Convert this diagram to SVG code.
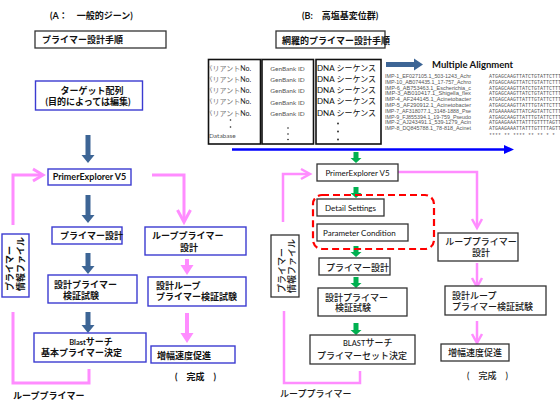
<svg xmlns="http://www.w3.org/2000/svg" width="560" height="406" viewBox="0 0 560 406">
<style>
text{font-family:Lato,'Noto Sans CJK JP',sans-serif;fill:#111}
.jb{font-size:9px;font-weight:bold}
.jn{font-size:9px;fill:#1a1a1a;font-weight:500}
.lat{font-family:Lato,'Liberation Sans',sans-serif}
.boxA{fill:#fff;stroke:#3b3bd1;stroke-width:1.4}
.boxK{fill:#fff;stroke:#333;stroke-width:1.3}
.tbl{fill:#fff;stroke:#111;stroke-width:1.6}
.darr{fill:#3d6595}
.garr{fill:#00b050}
.pk{fill:none;stroke:#ff8cff;stroke-width:3}
.pk2{fill:none;stroke:#ff8cff;stroke-width:2.5}
.pkf{fill:#ff8cff}
.aln{font-family:'Liberation Sans',sans-serif;font-size:5px;fill:#555}
.seq{font-family:'Liberation Mono',monospace;font-size:5px;fill:#555}
.var{font-size:7px;fill:#777}
.gb{font-size:6.5px;fill:#555}
.dna{font-size:8px;fill:#111}
.dot{fill:#222}
</style>
<defs>
<clipPath id="c1"><rect x="209" y="60" width="51" height="83"/></clipPath>
</defs>
<rect width="560" height="406" fill="#fff"/>

<g id="connectors">
<path class="darr" d="M85.5,135H90.5V155H94.5L88,163L81.5,155H85.5Z"/>
<path class="darr" d="M85.5,195H90.5V215H94.5L88,223L81.5,215H85.5Z"/>
<path class="darr" d="M85.5,253H90.5V266H94.5L88,274L81.5,266H85.5Z"/>
<path class="darr" d="M85.5,312H90.5V325H94.5L88,333L81.5,325H85.5Z"/>
<polyline class="pk" points="152,175 184,175 184,221"/>
<polyline class="pk" points="177.5,210 184,222 190.5,210"/>
<polyline class="pk" points="13,225 13,175 42,175"/>
<polyline class="pk" points="33,169 43,175 33,181"/>
<path class="pkf" d="M185,259H189V265H193.5L187,275L180.5,265H185Z"/>
<path class="pkf" d="M185,313H189V333H193.5L187,343L180.5,333H185Z"/>
<polyline class="pk" points="13,312 13,383 89,383 89,369"/>
<path class="darr" d="M386,62V67H414V70.5L423,64.5L414,58.5V62Z"/>
<line x1="232" y1="149.5" x2="506" y2="149.5" stroke="#0000ff" stroke-width="2.5"/>
<polygon points="504,145 514,149.5 504,154" fill="#0000ff"/>
<path class="garr" d="M353.5,152H358.5V158H361.5L356,163L350.5,158H353.5Z"/>
<path class="garr" d="M353.5,187H358.5V193H361.5L356,198L350.5,193H353.5Z"/>
<path class="garr" d="M353.5,246H358.5V252H361.5L356,257L350.5,252H353.5Z"/>
<path class="garr" d="M353.5,277H358.5V283H361.5L356,288L350.5,283H353.5Z"/>
<path class="garr" d="M353.5,323H358.5V330H361.5L356,335L350.5,330H353.5Z"/>
<polyline class="pk2" points="398,172 477,172 477,227"/>
<polyline class="pk2" points="472,219 477,228 482,219"/>
<polyline class="pk2" points="283,222 283,174 309,174"/>
<polyline class="pk2" points="301,169 310,174 301,179"/>
<polyline class="pk2" points="477,263 477,286"/>
<polyline class="pk2" points="472,278 477,287 482,278"/>
<polyline class="pk2" points="477,321 477,342"/>
<polyline class="pk2" points="472,334 477,343 482,334"/>
<polyline class="pk2" points="284,311 284,383 360,383 360,371"/>
<rect x="313" y="195" width="121" height="54" rx="9" fill="none" stroke="#ff0000" stroke-width="2.2" stroke-dasharray="7,4"/>
</g>

<g id="titleA"><text x="50" y="18.5" class="jb" font-size="10">(A：　一般的ジーン)</text></g>
<g id="stepsA"><rect class="boxK" x="35" y="31" width="131" height="17"/><text x="42" y="42.5" class="jb">プライマー設計手順</text></g>
<g id="targetA"><rect class="boxA" x="35.5" y="81" width="107" height="29"/>
<text x="92" y="93.5" class="jb" font-size="10" text-anchor="middle">ターゲット配列</text>
<text x="88" y="104.5" class="jb" font-size="10" text-anchor="middle">(目的によっては編集)</text></g>
<g id="peA"><rect class="boxA" x="48" y="169" width="83" height="16"/><text x="89.5" y="180" class="jb lat" font-size="8.5" text-anchor="middle">PrimerExplorer V5</text></g>
<g id="designA"><rect class="boxA" x="52" y="227" width="70" height="17"/><text x="60" y="239" class="jb">プライマー設計</text></g>
<g id="loopA"><rect class="boxA" x="145" y="227" width="101" height="28"/><text x="152" y="238.5" class="jb">ループプライマー</text><text x="180" y="250.5" class="jb">設計</text></g>
<g id="infoA"><rect class="boxA" x="2" y="234" width="27" height="63"/>
<text transform="translate(13,291) rotate(-90)" class="jb" font-size="8.5">プライマー</text>
<text transform="translate(24,291) rotate(-90)" class="jb" font-size="8.5">情報ファイル</text></g>
<g id="verifyA"><rect class="boxA" x="48" y="275" width="89" height="28"/><text x="54" y="287.5" class="jb">設計プライマー</text><text x="63" y="298.5" class="jb">検証試験</text></g>
<g id="loopVerifyA"><rect class="boxA" x="148" y="277" width="98" height="29"/><text x="156" y="289" class="jb">設計ループ</text><text x="156" y="299.5" class="jb">プライマー検証試験</text></g>
<g id="blastA"><rect class="boxA" x="34" y="333" width="112" height="29"/>
<text x="91" y="344.5" class="jb" text-anchor="middle"><tspan font-size="7.5">Blast</tspan>サーチ</text>
<text x="41" y="355.5" class="jb">基本プライマー決定</text></g>
<g id="ampA"><rect class="boxA" x="151" y="346" width="84" height="17"/><text x="157" y="358.5" class="jb">増幅速度促進</text></g>
<g id="doneA"><text x="175" y="379.5" class="jb">(　完成　)</text></g>
<g id="loopLabelA"><text x="13" y="399" class="jb" font-size="9.8">ループプライマー</text></g>

<g id="titleB"><text x="302" y="18.5" class="jb" font-size="9.5">(B:　高塩基変位群)</text></g>
<g id="stepsB"><rect class="boxK" x="276" y="31" width="109" height="17"/><text x="282" y="43.5" class="jb" font-size="10">網羅的プライマー設計手順</text></g>

<g id="tableB">
<rect class="tbl" x="208.5" y="59.5" width="52" height="84.5"/>
<rect class="tbl" x="262" y="59.5" width="51.5" height="84.5"/>
<rect class="tbl" x="316" y="59.5" width="65" height="84.5"/>
<g clip-path="url(#c1)">
<text x="205.5" y="71" class="var">バリアント<tspan fill="#222">No.</tspan></text>
<text x="205.5" y="82" class="var">バリアント<tspan fill="#222">No.</tspan></text>
<text x="205.5" y="93" class="var">バリアント<tspan fill="#222">No.</tspan></text>
<text x="205.5" y="104" class="var">バリアント<tspan fill="#222">No.</tspan></text>
<text x="205.5" y="115.5" class="var">バリアント<tspan fill="#222">No.</tspan></text>
</g>
<circle class="dot" cx="230.5" cy="120" r="0.8"/>
<circle class="dot" cx="230.5" cy="127" r="0.8"/>
<text x="209" y="137.5" class="gb" fill="#333">Database</text>
<text x="287.5" y="71" class="gb" text-anchor="middle">GenBank ID</text>
<text x="287.5" y="82" class="gb" text-anchor="middle">GenBank ID</text>
<text x="287.5" y="93" class="gb" text-anchor="middle">GenBank ID</text>
<text x="287.5" y="104.5" class="gb" text-anchor="middle">GenBank ID</text>
<text x="287.5" y="115.5" class="gb" text-anchor="middle">GenBank ID</text>
<circle class="dot" cx="288" cy="128" r="0.8"/>
<circle class="dot" cx="288" cy="134" r="0.8"/>
<circle class="dot" cx="288" cy="139.5" r="0.8"/>
<text x="317" y="70.5" class="dna">DNA シーケンス</text>
<text x="317" y="81.5" class="dna">DNA シーケンス</text>
<text x="317" y="93" class="dna">DNA シーケンス</text>
<text x="317" y="104" class="dna">DNA シーケンス</text>
<text x="317" y="115.5" class="dna">DNA シーケンス</text>
<circle class="dot" cx="338" cy="123.5" r="0.9"/>
<circle class="dot" cx="338" cy="131.5" r="0.9"/>
<circle class="dot" cx="338" cy="139.5" r="0.9"/>
</g>

<g id="alignmentB">
<text x="432" y="68" class="lat" font-size="9.5" font-weight="bold">Multiple Alignment</text>
<text x="385" y="78" class="aln" textLength="86" lengthAdjust="spacingAndGlyphs">IMP-1_EF027105.1_503-1243_Achr</text>
<text x="385" y="83.8" class="aln" textLength="86" lengthAdjust="spacingAndGlyphs">IMP-10_AB074435.1_17-757_Achro</text>
<text x="385" y="89.6" class="aln" textLength="86" lengthAdjust="spacingAndGlyphs">IMP-6_AB753463.1_Escherichia_c</text>
<text x="385" y="95.4" class="aln" textLength="86" lengthAdjust="spacingAndGlyphs">IMP-3_AB010417.1_Shigella_flex</text>
<text x="385" y="101.2" class="aln" textLength="86" lengthAdjust="spacingAndGlyphs">IMP-4_AF244145.1_Acinetobacter</text>
<text x="385" y="107" class="aln" textLength="86" lengthAdjust="spacingAndGlyphs">IMP-5_AF290912.1_Acinetobacter</text>
<text x="385" y="112.8" class="aln" textLength="86" lengthAdjust="spacingAndGlyphs">IMP-7_AF318077.1_3148-1888_Pse</text>
<text x="385" y="118.6" class="aln" textLength="86" lengthAdjust="spacingAndGlyphs">IMP-9_FJ855394.1_19-759_Pseudo</text>
<text x="385" y="124.4" class="aln" textLength="86" lengthAdjust="spacingAndGlyphs">IMP-2_AJ243491.1_539-1279_Acin</text>
<text x="385" y="130.2" class="aln" textLength="86" lengthAdjust="spacingAndGlyphs">IMP-8_DQ845788.1_78-818_Acinet</text>
<text x="489" y="78" class="seq">ATGAGCAAGTTATCTGTATTCTTT</text>
<text x="489" y="83.8" class="seq">ATGAGCAAGTTATCTGTATTCTTT</text>
<text x="489" y="89.6" class="seq">ATGAGCAAGTTATCTGTATTCTTT</text>
<text x="489" y="95.4" class="seq">ATGAGCAAGTTATCTGTATTCTTT</text>
<text x="489" y="101.2" class="seq">ATGAGCAAGTTATTTGTATTCTTT</text>
<text x="489" y="107" class="seq">ATGAGCAAGTTATTTGTATTCTTT</text>
<text x="489" y="112.8" class="seq">ATGAAAAAGTTATCAGTATTCTTT</text>
<text x="489" y="118.6" class="seq">ATGAGCAAGTTATTTGTATTCTTT</text>
<text x="489" y="124.4" class="seq">ATGAAGAAATTATTTGTTTTAGTT</text>
<text x="489" y="130.2" class="seq">ATGAAGAAATTATTTGTTTTAGTT</text>
<text x="489" y="137" class="seq">****  ** ****  ** ** * *</text>
</g>

<g id="peB"><rect class="boxK" x="317" y="164" width="81" height="17"/><text x="357.5" y="175.5" class="lat" font-size="8" text-anchor="middle">PrimerExplorer V5</text></g>
<g id="detailB"><rect class="boxK" x="317" y="199" width="67" height="17"/><text x="325" y="210.5" class="lat" font-size="8">Detail Settings</text></g>
<g id="paramB"><rect class="boxK" x="317" y="224" width="91" height="17"/><text x="323" y="235.5" class="lat" font-size="8">Parameter Condition</text></g>
<g id="designB"><rect class="boxK" x="319" y="258" width="71" height="17"/><text x="326" y="270.5" class="jn">プライマー設計</text></g>
<g id="loopB"><rect class="boxK" x="438" y="233" width="80" height="28"/><text x="481" y="244.5" class="jn" text-anchor="middle">ループプライマー</text><text x="481" y="255.5" class="jn" text-anchor="middle">設計</text></g>
<g id="infoB"><rect class="boxK" x="271" y="235" width="28" height="62"/>
<text transform="translate(284.5,293) rotate(-90)" class="jn" font-size="8.5">プライマー</text>
<text transform="translate(294.5,293) rotate(-90)" class="jn" font-size="8.5">情報ファイル</text></g>
<g id="verifyB"><rect class="boxK" x="318" y="288" width="89" height="28"/><text x="325" y="300.5" class="jn">設計プライマー</text><text x="335" y="311" class="jn">検証試験</text></g>
<g id="loopVerifyB"><rect class="boxK" x="445" y="286" width="101" height="29"/><text x="452" y="298.5" class="jn">設計ループ</text><text x="452" y="310" class="jn">プライマー検証試験</text></g>
<g id="blastB"><rect class="boxK" x="310" y="335" width="105" height="29"/>
<text x="343" y="346" class="jn"><tspan font-size="7.5">BLAST</tspan>サーチ</text>
<text x="317" y="358.5" class="jn">プライマーセット決定</text></g>
<g id="ampB"><rect class="boxK" x="441" y="344" width="68" height="17"/><text x="448" y="356" class="jn">増幅速度促進</text></g>
<g id="doneB"><text x="467" y="378.5" class="jn" font-size="9.5">(　完成　)</text></g>
<g id="loopLabelB"><text x="280" y="396.5" class="jn" font-size="9.7">ループプライマー</text></g>
</svg>
